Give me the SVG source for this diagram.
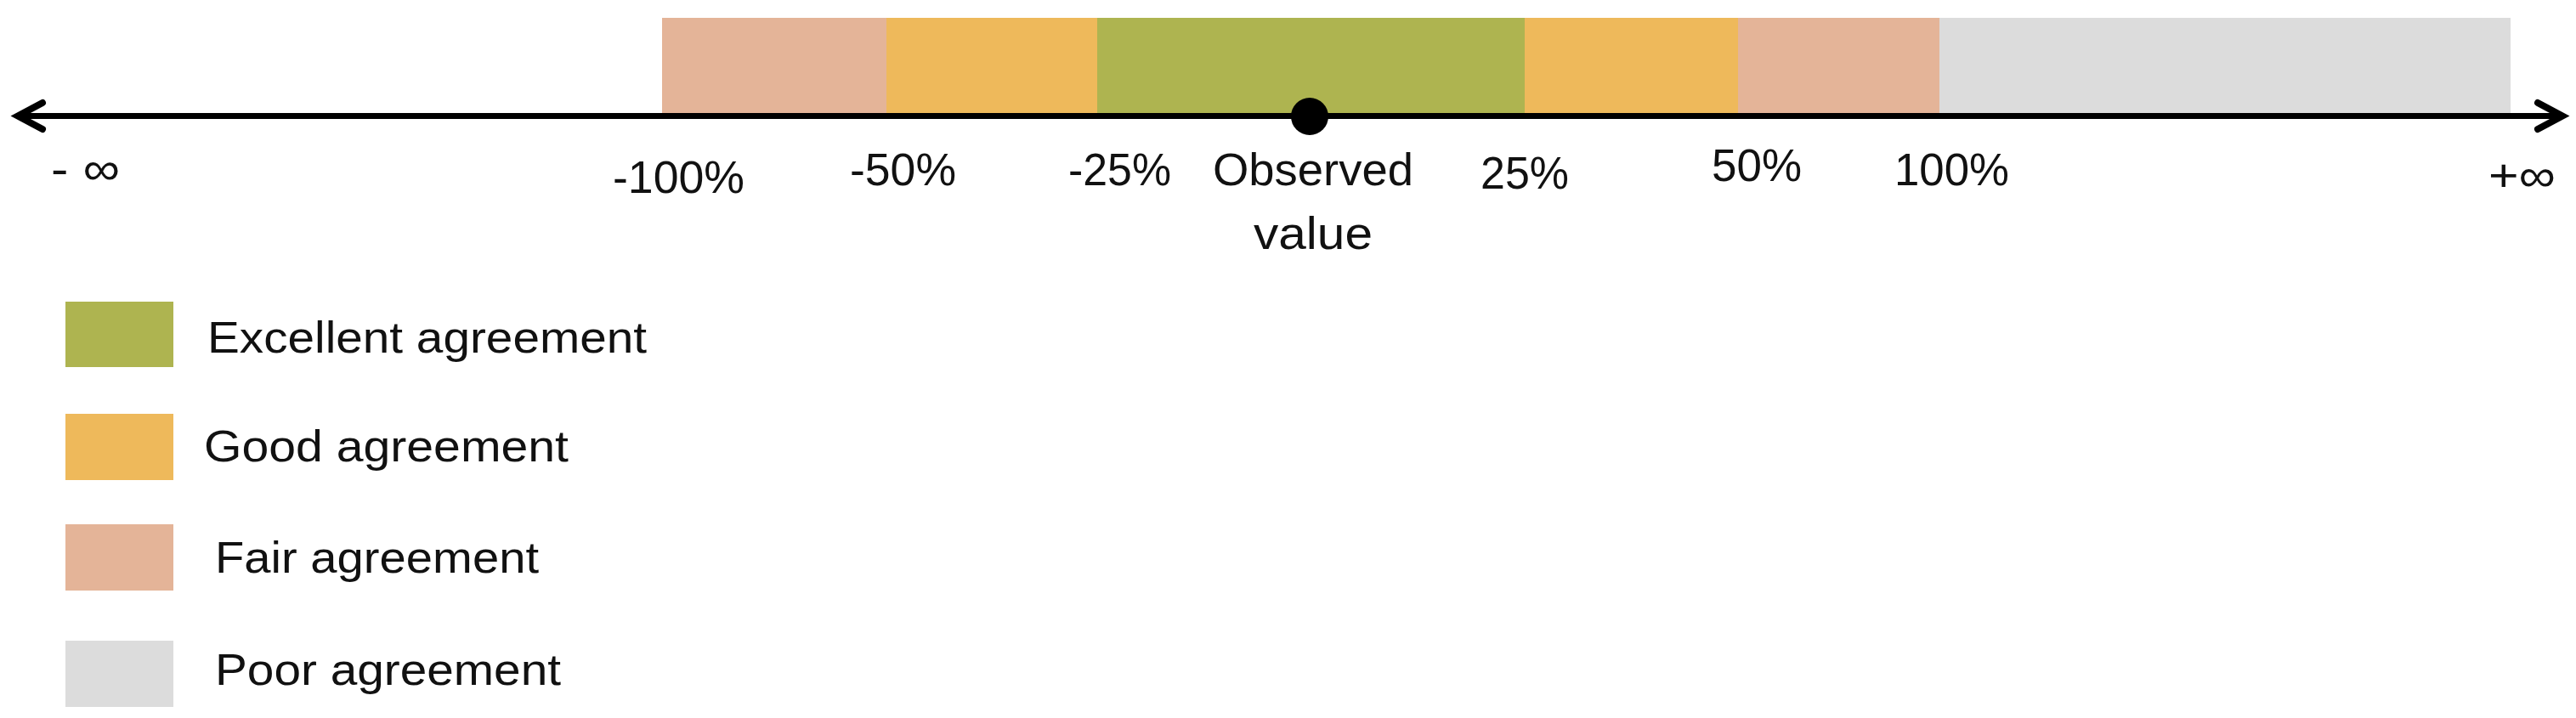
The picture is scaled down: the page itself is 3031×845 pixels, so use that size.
<svg xmlns="http://www.w3.org/2000/svg" width="3031" height="845" viewBox="0 0 3031 845">
<style>
.t{font-family:"Liberation Sans",Arial,sans-serif;font-size:54px;fill:#111;}
.lg{font-family:"Liberation Sans",Arial,sans-serif;font-size:52px;fill:#111;}
.ex{fill:#AEB450;}
.gd{fill:#EEB95B;}
.fr{fill:#E4B498;}
.pr{fill:#DCDCDC;}
.ax{stroke:#000;stroke-width:7;fill:none;}
.ah{stroke:#000;stroke-width:8;fill:none;stroke-linecap:round;stroke-linejoin:miter;}
</style>
<rect width="3031" height="845" fill="#fff"/>
<g id="bands">
<rect class="fr" x="779" y="21" width="265" height="113"/>
<rect class="gd" x="1043" y="21" width="249" height="113"/>
<rect class="ex" x="1291" y="21" width="504" height="113"/>
<rect class="gd" x="1794" y="21" width="252" height="113"/>
<rect class="fr" x="2045" y="21" width="238" height="113"/>
<rect class="pr" x="2282" y="21" width="672" height="113"/>
</g>
<g id="connectors">
<line class="ax" x1="20" y1="136.5" x2="3012" y2="136.5"/>
<polyline class="ah" points="50,121 21,136.5 50,152"/>
<polyline class="ah" points="2986,121 3015,136.5 2986,152"/>
</g>
<g id="observed">
<circle cx="1541" cy="137" r="22" fill="#000"/>
<text class="t" x="1427" y="218" textLength="236" lengthAdjust="spacingAndGlyphs">Observed</text>
<text class="t" x="1475" y="293" textLength="140" lengthAdjust="spacingAndGlyphs">value</text>
</g>
<g id="ticks">
<text class="t" x="60" y="217" textLength="81" lengthAdjust="spacingAndGlyphs">- ∞</text>
<text class="t" x="721" y="227" textLength="155" lengthAdjust="spacingAndGlyphs">-100%</text>
<text class="t" x="1000" y="218" textLength="125" lengthAdjust="spacingAndGlyphs">-50%</text>
<text class="t" x="1257" y="218" textLength="121" lengthAdjust="spacingAndGlyphs">-25%</text>
<text class="t" x="1742" y="222" textLength="104" lengthAdjust="spacingAndGlyphs">25%</text>
<text class="t" x="2014" y="213" textLength="106" lengthAdjust="spacingAndGlyphs">50%</text>
<text class="t" x="2229" y="218" textLength="135" lengthAdjust="spacingAndGlyphs">100%</text>
<text class="t" x="2928" y="225" textLength="79" lengthAdjust="spacingAndGlyphs">+∞</text>
</g>
<g id="legend-excellent">
<rect class="ex" x="77" y="355" width="127" height="77"/>
<text class="lg" x="244" y="415" textLength="517" lengthAdjust="spacingAndGlyphs">Excellent agreement</text>
</g>
<g id="legend-good">
<rect class="gd" x="77" y="487" width="127" height="78"/>
<text class="lg" x="240" y="543" textLength="429" lengthAdjust="spacingAndGlyphs">Good agreement</text>
</g>
<g id="legend-fair">
<rect class="fr" x="77" y="617" width="127" height="78"/>
<text class="lg" x="253" y="674" textLength="381" lengthAdjust="spacingAndGlyphs">Fair agreement</text>
</g>
<g id="legend-poor">
<rect class="pr" x="77" y="754" width="127" height="78"/>
<text class="lg" x="253" y="806" textLength="407" lengthAdjust="spacingAndGlyphs">Poor agreement</text>
</g>
</svg>
